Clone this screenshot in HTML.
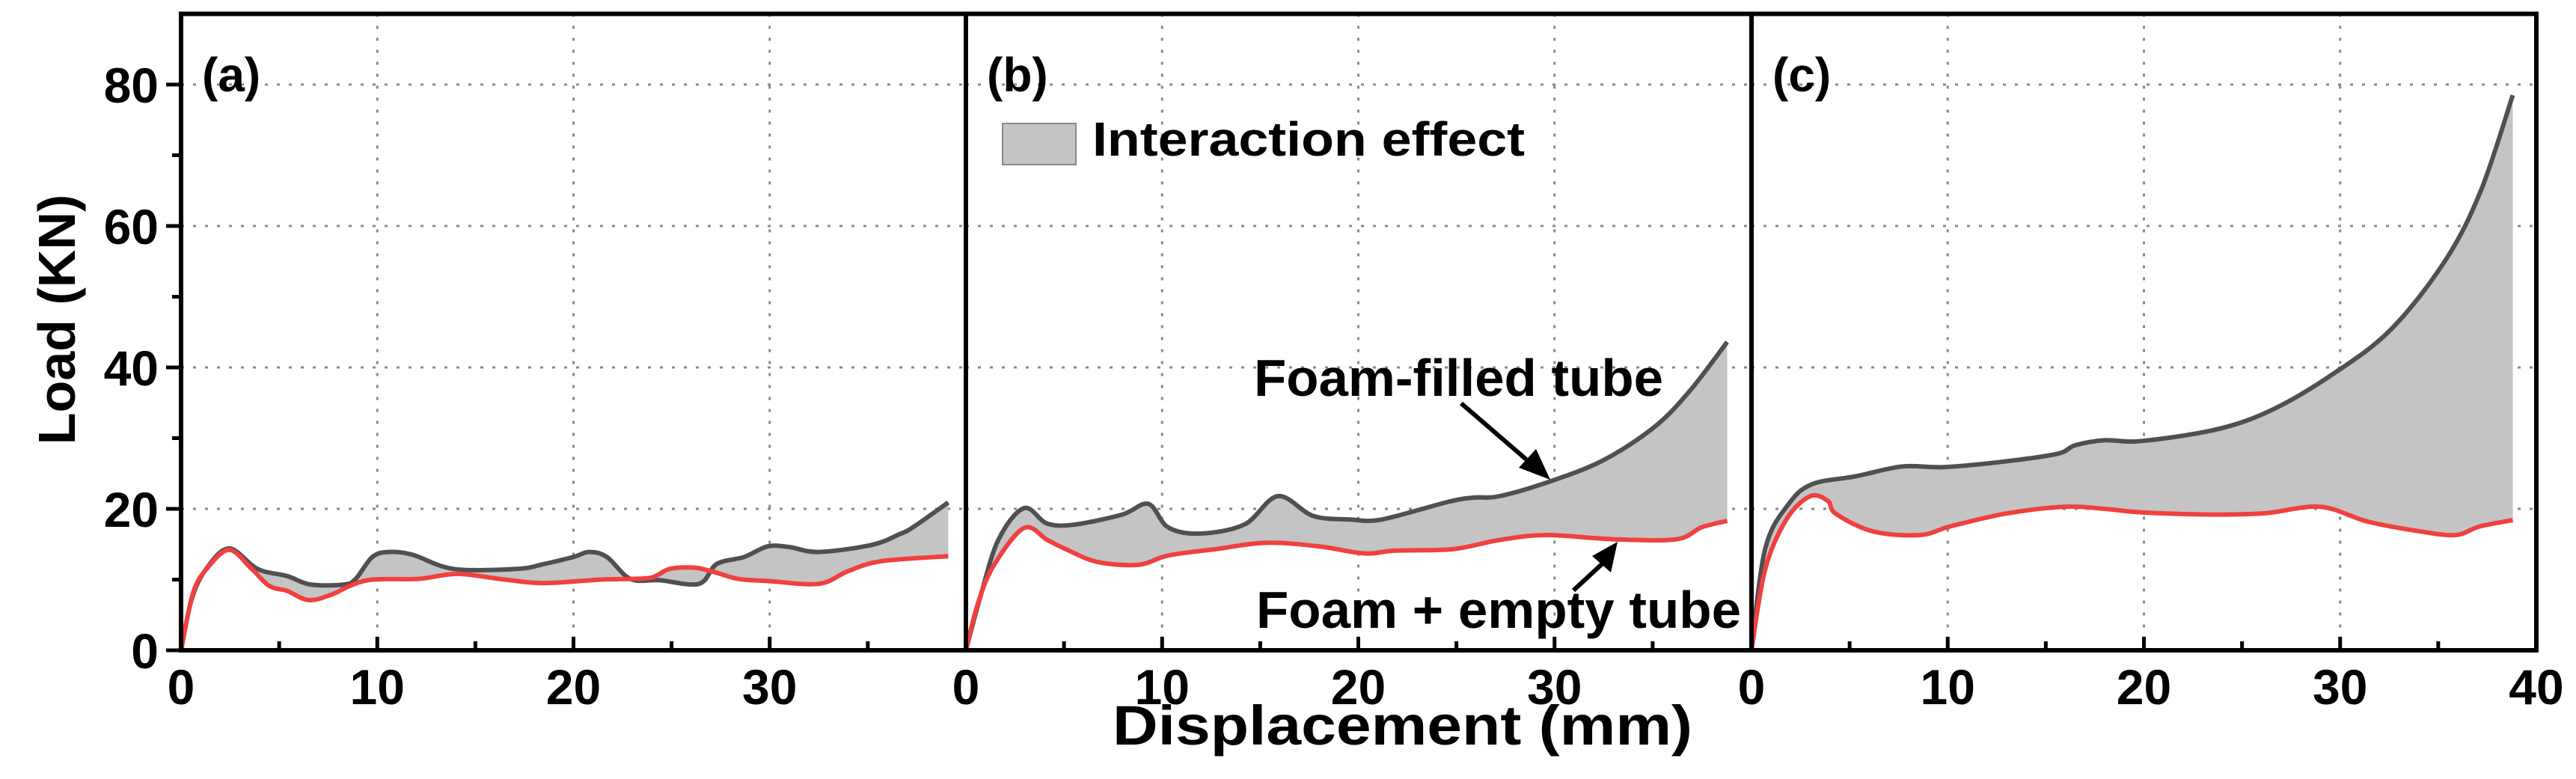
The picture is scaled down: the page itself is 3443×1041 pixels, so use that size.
<!DOCTYPE html>
<html><head><meta charset="utf-8">
<style>
html,body{margin:0;padding:0;background:#fff;}
svg{display:block;font-family:"Liberation Sans",Arial,sans-serif;font-weight:bold;}
</style></head>
<body>
<svg id="chart" width="3443" height="1041" viewBox="0 0 3443 1041" xmlns="http://www.w3.org/2000/svg">
<g id="grid"></g>
<g id="fills"></g>
<g id="lines"></g>
<g id="axes"></g>
<g id="labels"></g>
</svg>
<script>
// ---- data (displacement mm, load kN) ----
const panelNames = ['(a)', '(b)', '(c)'];
const xTicks = [0, 10, 20, 30];
const xTicksLast = [0, 10, 20, 30, 40];
const yTicks = [0, 20, 40, 60, 80];
const yMinor = [10, 30, 50, 70];

const aFilledX = [0,0.55,1.28,2.45,3.9,5.4,6.6,8.3,8.9,9.75,10.6,11.8,13.9,17.1,18.5,20,20.8,21.7,22.9,24.4,26.4,27.3,28.7,29.9,31,32.5,35.2,36.6,37.3,39.1];
const aFilledY = [0,7.3,11.5,14.4,11.5,10.5,9.3,9.3,10.1,13.2,13.9,13.5,11.5,11.5,12.2,13.2,13.9,13.2,10.1,9.9,9.4,12.2,13.2,14.7,14.6,13.9,14.9,16.4,17.4,20.9];
const aEmptyX = [0,0.6,1.3,2.45,3.6,4.5,5.4,6.5,7.7,8.6,9.75,12.1,14.1,16.5,18.5,21.4,22.9,24,24.9,26.1,27,28.4,29.9,32.5,34,35.7,39.1];
const aEmptyY = [0,8,11.5,14.2,11.5,9.1,8.4,7.1,7.9,9.1,10,10.1,10.8,10,9.5,10,10.1,10.3,11.5,11.7,11.2,10.1,9.8,9.4,11.2,12.6,13.3];

const bFilledX = [0,0.73,1.65,2.96,4.15,5.6,7.97,9.3,10.3,11.9,14.2,15.9,17.7,19.6,21.2,24.6,25.9,27.2,29.8,32.5,35.1,36.9,38.8];
const bFilledY = [0,7.5,15.6,20.1,17.9,17.8,19.2,20.7,17.4,16.5,17.8,21.8,19.0,18.5,18.5,21.0,21.6,21.8,23.9,26.9,31.6,36.7,43.6];
const bEmptyX = [0,0.6,1.4,2.96,4.15,5.1,6.7,8.8,10.3,12.7,15.3,17.98,20.3,21.9,24.8,27.2,29.6,32.98,36.2,37.5,38.8];
const bEmptyY = [0,6.5,11.9,17.3,15.6,14.3,12.5,12.1,13.4,14.3,15.2,14.7,13.7,14.1,14.3,15.6,16.3,15.7,15.7,17.4,18.3];

const cFilledX = [0,0.7,1.9,3.1,5.3,7.7,9.8,12.9,15.6,16.5,18.0,19.9,23.8,26.6,29.6,32.6,35.4,37.2,38.8];
const cFilledY = [0,14.4,20.7,23.5,24.6,26.0,25.9,26.7,27.8,29.0,29.7,29.6,31.3,34.1,39.0,45.4,55.3,65.2,78.5];
const cEmptyX = [0,0.7,1.8,3.0,3.9,4.3,6.2,8.6,10.1,12.9,15.9,18.0,19.9,23.5,26.2,29.0,31.4,34.1,35.9,37.1,38.8];
const cEmptyY = [0,11.5,18.6,21.8,21.1,19.3,16.8,16.3,17.5,19.3,20.3,20.0,19.5,19.2,19.4,20.3,18.2,16.8,16.3,17.5,18.4];

const filledXs = [aFilledX, bFilledX, cFilledX];
const filledYs = [aFilledY, bFilledY, cFilledY];
const emptyXs = [aEmptyX, bEmptyX, cEmptyX];
const emptyYs = [aEmptyY, bEmptyY, cEmptyY];

// ---- layout ----
const NS = 'http://www.w3.org/2000/svg';
const panelLeft = [242, 1291, 2341];
const panelW = 1049, xMax = 40;
const yBase = 869, yTop = 18.5, yMax = 90;
function sx(p, v){ return panelLeft[p] + v / xMax * panelW; }
function sy(v){ return yBase - v / yMax * (yBase - yTop); }
function mk(tag, attrs, parent){
  const e = document.createElementNS(NS, tag);
  for (const k in attrs) e.setAttribute(k, attrs[k]);
  parent.appendChild(e); return e;
}
// Catmull-Rom smooth path segment commands through points (after initial point)
function smooth(pts){
  let d = '';
  for (let i = 0; i < pts.length - 1; i++) {
    const p0 = pts[Math.max(0,i-1)], p1 = pts[i], p2 = pts[i+1], p3 = pts[Math.min(pts.length-1,i+2)];
    const c1x = p1[0] + (p2[0]-p0[0])/6, c1y = p1[1] + (p2[1]-p0[1])/6;
    const c2x = p2[0] - (p3[0]-p1[0])/6, c2y = p2[1] - (p3[1]-p1[1])/6;
    d += ` C${c1x.toFixed(1)},${c1y.toFixed(1)} ${c2x.toFixed(1)},${c2y.toFixed(1)} ${p2[0].toFixed(1)},${p2[1].toFixed(1)}`;
  }
  return d;
}
const G = id => document.getElementById(id);
const right = panelLeft[2] + panelW;

// grid
for (let p = 0; p < 3; p++) {
  for (const t of [10,20,30]) {
    const l = mk('line', {x1:sx(p,t), x2:sx(p,t), y1:yTop, y2:yBase, stroke:'#888', 'stroke-width':3, 'stroke-dasharray':'4 12'}, G('grid'));
    
    
  }
  for (const t of [20,40,60,80]) {
    const l = mk('line', {x1:panelLeft[p], x2:panelLeft[p]+panelW, y1:sy(t), y2:sy(t), stroke:'#888', 'stroke-width':3, 'stroke-dasharray':'4 12'}, G('grid'));
    
    
  }
}

// fills + lines
for (let p = 0; p < 3; p++) {
  const fx = filledXs[p], fy = filledYs[p], ex = emptyXs[p], ey = emptyYs[p];
  const fp = fx.map((x,i)=>[sx(p,x), sy(fy[i])]);
  const ep = ex.map((x,i)=>[sx(p,x), sy(ey[i])]);
  const epr = ep.slice().reverse();
  const dFill = `M${fp[0][0]},${fp[0][1]}` + smooth(fp) + ` L${epr[0][0]},${epr[0][1]}` + smooth(epr) + ' Z';
  const poly = mk('path', {d: dFill, fill:'#c4c4c4'}, G('fills'));
  
  
  const l1 = mk('path', {d: `M${fp[0][0]},${fp[0][1]}` + smooth(fp), fill:'none', stroke:'#505050', 'stroke-width':6, 'stroke-linejoin':'round'}, G('lines'));
  
  
  const l2 = mk('path', {d: `M${ep[0][0]},${ep[0][1]}` + smooth(ep), fill:'none', stroke:'#f04040', 'stroke-width':6, 'stroke-linejoin':'round'}, G('lines'));
  
  
}

// axes frame
const ax = G('axes');
function line(x1,y1,x2,y2,w,name){
  const l = mk('line',{x1,y1,x2,y2,stroke:'#000','stroke-width':w},ax);
  
  
}
line(239, yBase, right+3, yBase, 6, 'x-axis');
line(239, yTop, right+3, yTop, 6, 'top-border');
line(right, yTop, right, yBase, 6, 'right-border');
for (let p = 0; p < 3; p++) line(panelLeft[p], yTop-3, panelLeft[p], yBase+3, 6, 'panel-divider-' + 'abc'[p]);

// y ticks & labels
for (const t of yTicks) {
  line(222, sy(t), 242, sy(t), 5, 'y-tick');
  const tx = mk('text', {x:212, y:sy(t)+24, 'font-size':66, 'text-anchor':'end'}, G('labels'));
  tx.textContent = t;
  
  
}
for (const t of yMinor) line(230, sy(t), 242, sy(t), 5, 'y-minor-tick');

// x ticks & labels
for (let p = 0; p < 3; p++) {
  for (let m = 5; m < 40; m += 10) line(sx(p,m), yBase, sx(p,m), yBase-12, 5, 'x-minor-tick');
  for (const t of [10,20,30]) line(sx(p,t), yBase, sx(p,t), yBase-18, 5, 'x-tick');
  const ticks = p === 2 ? xTicksLast : xTicks;
  for (const t of ticks) {
    const tx = mk('text', {x:sx(p,t), y:941, 'font-size':66, 'text-anchor':'middle'}, G('labels'));
    tx.textContent = t;
    
    
  }
  const pl = mk('text', {x:panelLeft[p]+28, y:122, 'font-size':64}, G('labels'));
  pl.textContent = panelNames[p];
  
  
}
</script>
<svg style="position:absolute;left:0;top:0" width="3443" height="1041" font-family="Liberation Sans, Arial, sans-serif" font-weight="bold">
<text x="100" y="427" font-size="70" text-anchor="middle" transform="rotate(-90 100 427)">Load (KN)</text>
<text x="1487" y="995" font-size="74" textLength="775" lengthAdjust="spacingAndGlyphs">Displacement (mm)</text>
<rect x="1340" y="165" width="98" height="55" fill="#c4c4c4" stroke="#888" stroke-width="2"/>
<text x="1460" y="208" font-size="64" textLength="578" lengthAdjust="spacingAndGlyphs">Interaction effect</text>
<text x="1676" y="529" font-size="70" textLength="547" lengthAdjust="spacingAndGlyphs">Foam-filled tube</text>
<text x="1679" y="839" font-size="70" textLength="648" lengthAdjust="spacingAndGlyphs">Foam + empty tube</text>
<line x1="1953" y1="539" x2="2040" y2="614" stroke="#000" stroke-width="6"/>
<polygon points="2072,641 2030,625 2053,600" fill="#000"/>
<line x1="2103" y1="789" x2="2143" y2="752" stroke="#000" stroke-width="6"/>
<polygon points="2162,724 2153,765 2128,743" fill="#000"/>
</svg>
</body></html>
